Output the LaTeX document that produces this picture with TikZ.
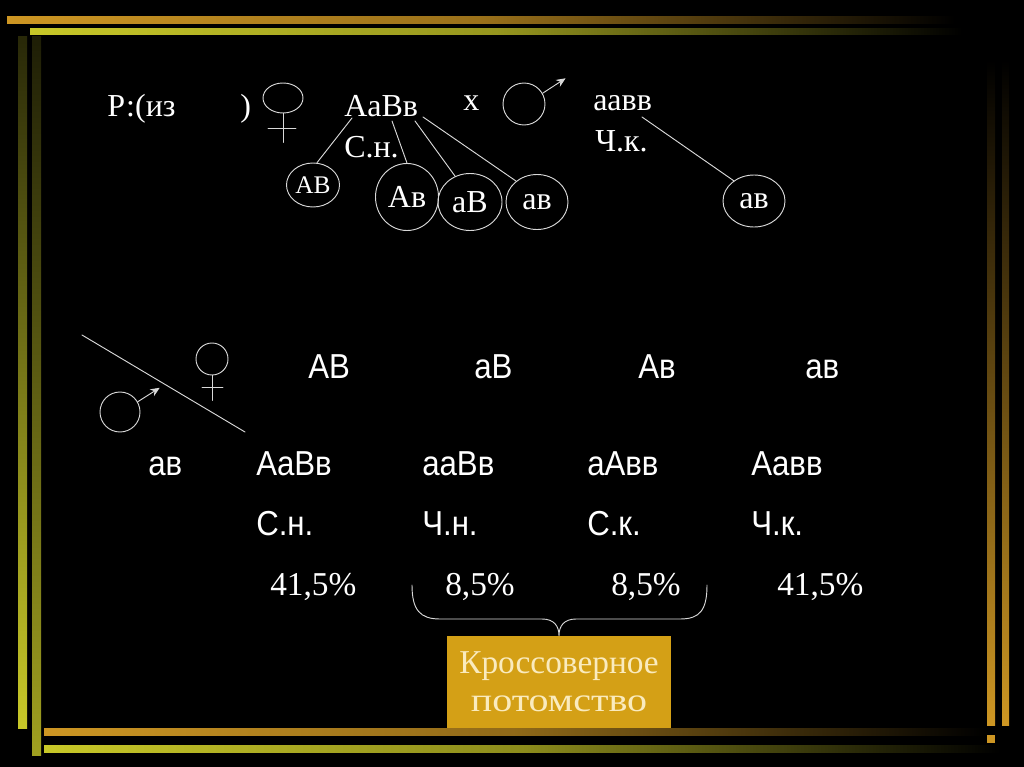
\documentclass[tikz,border=0pt]{standalone}
\usepackage{fontspec}
\setmainfont{Liberation Serif}
\newfontfamily\tabfont{Liberation Sans}[FakeStretch=0.9]
\usetikzlibrary{shapes.geometric,arrows.meta}
\definecolor{barorange}{RGB}{205,150,35}
\definecolor{baryellow}{RGB}{200,200,40}
\definecolor{boxgold}{RGB}{212,160,22}
\definecolor{boxtext}{RGB}{250,235,190}
\def\pxl{0.75pt}
\begin{document}
\begin{tikzpicture}[x=0.75pt, y=-0.75pt, line join=round, line cap=round, >={Stealth[length=7pt,width=6pt]},
	wire/.style={draw=white!85!black, line width=0.7pt},
	txt/.style={white, inner sep=0pt, anchor=base west, font=\fontsize{24}{28}\selectfont},
	tab/.style={white, inner sep=0pt, anchor=base west, font=\tabfont\fontsize{26}{30}\selectfont},
	gam/.style={wire, ellipse, inner sep=0pt, text=white, font=\fontsize{24}{28}\selectfont}]
	\fill[black] (0,0) rectangle (1024,767);
	\useasboundingbox (0,0) rectangle (1024,767);
	% frame
	\shade[left color=barorange, right color=black, middle color=barorange!75!black] (7,17) rectangle (955,24);
	\shade[left color=baryellow, right color=black, middle color=baryellow!75!black] (30,29) rectangle (962,35);
	\shade[top color=baryellow!20!black, bottom color=baryellow] (18,37) rectangle (27,728);
	\shade[top color=baryellow!15!black, bottom color=baryellow!80!black] (32,37) rectangle (41,755);
	\shade[top color=black, bottom color=barorange] (987,60) rectangle (995,725);
	\shade[top color=black, bottom color=barorange] (1002,60) rectangle (1009,725);
	\fill[barorange] (987,735) rectangle (995,743);
	\shade[left color=barorange, right color=black, middle color=barorange!70!black] (44,728) rectangle (985,735);
	\shade[left color=baryellow, right color=black, middle color=baryellow!70!black] (44,745) rectangle (1000,752);
	% parents
	\node[txt] (p) at (107,117) {Р:(из};
	\node[txt] (pr) at (240,117) {)};
	\node[wire, ellipse, minimum width=40*\pxl, minimum height=30*\pxl, inner sep=0pt] (f1) at (283,98) {};
	\draw[wire] (f1.south) -- ++(0,29) ([shift={(-15,15)}]f1.south) -- ++(28,0);
	\node[txt] (pf) at (344,117) {AaBв};
	\node[txt] (pfc) at (344,157) {С.н.};
	\node[txt] (x) at (463,110) {х};
	\node[wire, circle, minimum size=42*\pxl, inner sep=0pt] (m1) at (524,104) {};
	\draw[wire,->] (m1.30) -- ++(23,-15);
	\node[txt] (pm) at (593,110) {aaвв};
	\node[txt] (pmc) at (595,151) {Ч.к.};
	% gametes
	\node[gam, minimum width=53*\pxl, minimum height=44*\pxl, font=\fontsize{19}{22}\selectfont] (g1) at (313,185) {AB};
	\node[gam, minimum width=63*\pxl, minimum height=67*\pxl] (g2) at (407,197) {Aв};
	\node[gam, minimum width=64*\pxl, minimum height=57*\pxl] (g3) at (470,202) {aB};
	\node[gam, minimum width=62*\pxl, minimum height=55*\pxl] (g4) at (537,202) {aв};
	\node[gam, minimum width=62*\pxl, minimum height=52*\pxl] (g5) at (754,201) {aв};
	\draw[wire] ([shift={(8,1)}]pf.base west) -- (g1.80);
	\draw[wire] ([shift={(48,4)}]pf.base west) -- (g2.north);
	\draw[wire] ([shift={(71,4)}]pf.base west) -- (g3.120);
	\draw[wire] ([shift={(79,0)}]pf.base west) -- (g4.135);
	\draw[wire] ([shift={(49,7)}]pm.base west) -- (g5.135);
	% lattice
	\draw[wire] (82,335) -- (245,432);
	\node[wire, circle, minimum size=32*\pxl, inner sep=0pt] (f2) at (212,359) {};
	\draw[wire] (f2.south) -- ++(0,25) ([shift={(-10,12)}]f2.south) -- ++(21,0);
	\node[wire, circle, minimum size=40*\pxl, inner sep=0pt] (m2) at (120,412) {};
	\draw[wire,->] (m2.30) -- ++(22,-14);
	\foreach \t/\x [count=\i] in {AB/308, aB/474, Aв/638, aв/805}
		\node[tab] (h\i) at (\x,378) {\t};
	\node[tab] (r0) at (148,475) {aв};
	\foreach \g/\c/\p/\x/\xp [count=\i] in {AaBв/С.н./{41,5\%}/256/270, aaBв/Ч.н./{8,5\%}/422/445, aAвв/С.к./{8,5\%}/587/611, Aaвв/Ч.к./{41,5\%}/751/777}
	{
		\node[tab] (z\i) at (\x,475) {\g};
		\node[tab] (ph\i) at (\x,535) {\c};
		\node[txt, font=\fontsize{25}{30}\selectfont] (pc\i) at (\xp,595) {\p};
	}
	% crossover offspring
	\node[fill=boxgold, minimum width=224*\pxl, minimum height=92*\pxl, align=center, text=boxtext, font=\fontsize{25}{28.5}\selectfont] (box) at (559,682) {Кроссоверное\\{\addfontfeatures{FakeStretch=1.2}потомство}};
	\coordinate (bl) at (412,585);
	\coordinate (br) at (707,585);
	\draw[wire] (bl) .. controls (412,610) and (420,619) .. (440,619) -- (542,619) .. controls (554,619) and (559,626) .. (box.north) .. controls (559,626) and (564,619) .. (576,619) -- (680,619) .. controls (700,619) and (707,610) .. (br);
\end{tikzpicture}
\end{document}
